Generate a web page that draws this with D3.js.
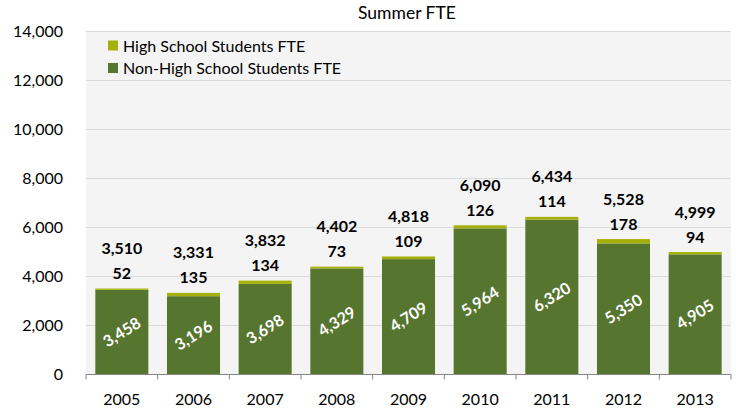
<!DOCTYPE html>
<html><head><meta charset="utf-8">
<script src="https://cdn.jsdelivr.net/npm/d3@7"></script>
<style>
body{margin:0;background:#fff;}
svg text{font-family:Lato,"Open Sans",sans-serif;}
</style></head>
<body><svg id="c" width="736" height="409"></svg>
<script>
const years = ["2005","2006","2007","2008","2009","2010","2011","2012","2013"];
const nonHS = [3458,3196,3698,4329,4709,5964,6320,5350,4905];
const hs = [52,135,134,73,109,126,114,178,94];
const totals = [3510,3331,3832,4402,4818,6090,6434,5528,4999];
const yTicks = [0,2000,4000,6000,8000,10000,12000,14000];
const seriesNames = ["High School Students FTE","Non-High School Students FTE"];
const colors = {nonHS:"#56762f", hs:"#a5b10a"};

const svg = d3.select("#c");
const m = {l:86, r:731, t:31.5, b:374.5};
const x = d3.scaleBand().domain(years).range([m.l,m.r]).paddingInner(0.26).paddingOuter(0.13);
const y = d3.scaleLinear().domain([0,14000]).range([m.b,m.t]);
const fmt = d3.format(",");

svg.append("rect").attr("x",m.l).attr("y",m.t).attr("width",m.r-m.l).attr("height",m.b-m.t).attr("fill","#f4f4f4");

// gridlines
svg.append("g").selectAll("line").data(yTicks.filter(d=>d>0)).join("line")
  .attr("x1",m.l).attr("x2",m.r).attr("y1",d=>y(d)).attr("y2",d=>y(d))
  .attr("stroke","#d9d9d9").attr("stroke-width",1);

// y axis labels
const ya = svg.append("g").attr("transform",`translate(${m.l},0)`)
  .call(d3.axisLeft(y).tickValues(yTicks).tickFormat(fmt).tickSize(0).tickPadding(23));
ya.select(".domain").remove();
ya.selectAll("text").attr("font-size",16).attr("fill","#000").attr("font-family","Lato");

// bars
const g = svg.append("g");
g.selectAll(".nh").data(years).join("rect")
  .attr("x",d=>x(d)).attr("width",x.bandwidth())
  .attr("y",(d,i)=>y(nonHS[i])).attr("height",(d,i)=>y(0)-y(nonHS[i]))
  .attr("fill",colors.nonHS);
g.selectAll(".hs").data(years).join("rect")
  .attr("x",d=>x(d)).attr("width",x.bandwidth())
  .attr("y",(d,i)=>y(nonHS[i]+hs[i])).attr("height",(d,i)=>y(nonHS[i])-y(nonHS[i]+hs[i]))
  .attr("fill",colors.hs);

// x axis
const xa = svg.append("g").attr("transform",`translate(0,${m.b})`);
xa.append("line").attr("x1",m.l).attr("x2",m.r).attr("stroke","#868686");
const bounds = d3.range(years.length+1).map(i=>m.l+i*(m.r-m.l)/years.length);
xa.selectAll(".tk").data(bounds).join("line").attr("x1",d=>d).attr("x2",d=>d).attr("y1",0).attr("y2",5).attr("stroke","#868686");
xa.selectAll("text").data(years).join("text")
  .attr("x",d=>x(d)+x.bandwidth()/2).attr("y",30).attr("text-anchor","middle")
  .attr("font-size",16).text(d=>d);

// inner labels
g.selectAll(".il").data(years).join("text")
  .attr("transform",(d,i)=>`translate(${x(d)+x.bandwidth()/2},${(y(0)+y(nonHS[i]))/2}) rotate(-32)`)
  .attr("text-anchor","middle").attr("dy","0.35em")
  .attr("fill","#fff").attr("font-weight","bold").attr("font-size",16)
  .text((d,i)=>fmt(nonHS[i]));

// hs labels
g.selectAll(".hl").data(years).join("text")
  .attr("x",d=>x(d)+x.bandwidth()/2).attr("y",(d,i)=>y(totals[i])-15).attr("dy","0.35em")
  .attr("text-anchor","middle").attr("font-weight","bold").attr("font-size",16)
  .text((d,i)=>fmt(hs[i]));
// total labels
g.selectAll(".tl").data(years).join("text")
  .attr("x",d=>x(d)+x.bandwidth()/2).attr("y",(d,i)=>y(totals[i])-40).attr("dy","0.35em")
  .attr("text-anchor","middle").attr("font-weight","bold").attr("font-size",16)
  .text((d,i)=>fmt(totals[i]));

// title
svg.append("text").attr("x",407).attr("y",19).attr("text-anchor","middle").attr("font-size",17.5).text("Summer FTE");

// legend
const lg = svg.append("g");
[colors.hs, colors.nonHS].forEach((c,i)=>{
  lg.append("rect").attr("x",108).attr("y",40.5+i*22.5).attr("width",10).attr("height",10).attr("fill",c);
  lg.append("text").attr("x",123).attr("y",51.5+i*22.5).attr("font-size",16).text(seriesNames[i]);
});
</script></body></html>
